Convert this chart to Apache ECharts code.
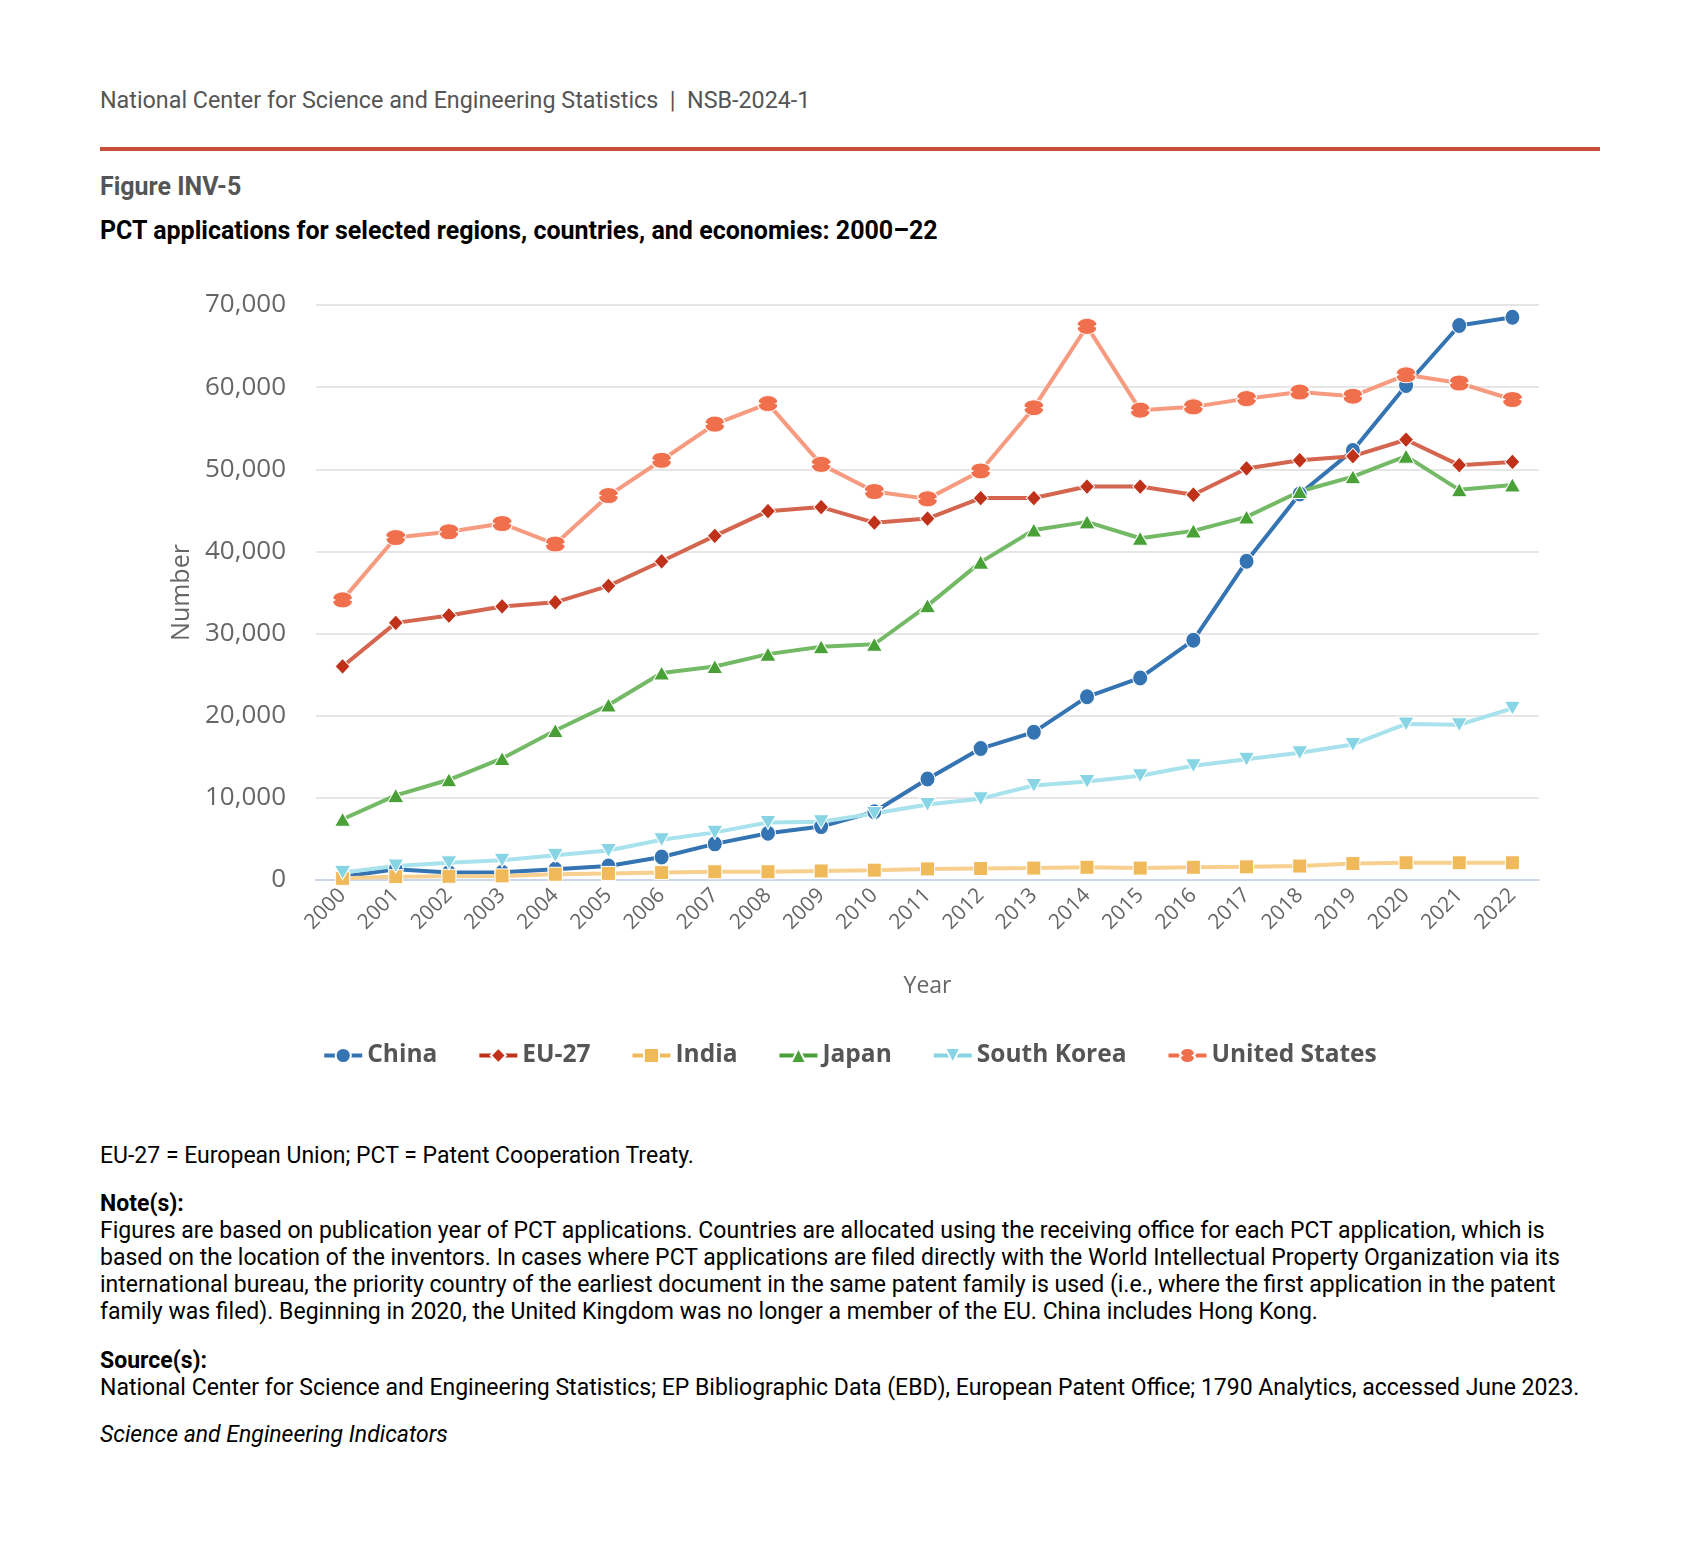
<!DOCTYPE html>
<html>
<head>
<meta charset="utf-8">
<script src="https://cdn.jsdelivr.net/npm/echarts@6/dist/echarts.min.js"></script>
<style>
  html, body { margin:0; padding:0; background:#fff; }
  body { width:1699px; height:1556px; position:relative; overflow:hidden; font-family: Roboto, "Noto Sans", sans-serif; }
  .t { position:absolute; left:100px; white-space:nowrap; line-height:27px; }
  #chart { position:absolute; left:0; top:250px; width:1699px; height:860px; }
</style>
</head>
<body>
<div class="t" style="top:87px;font-size:23.3px;color:#555;">National Center for Science and Engineering Statistics &nbsp;|&nbsp; NSB-2024-1</div>
<div style="position:absolute;left:100px;top:147px;width:1500px;height:4px;background:#c8503a;"></div>
<div class="t" style="top:173px;font-size:25px;font-weight:bold;color:#555;">Figure INV-5</div>
<div class="t" style="top:217px;font-size:25px;font-weight:bold;color:#000;">PCT applications for selected regions, countries, and economies: 2000–22</div>
<div id="chart"></div>
<div class="t" style="top:1142px;font-size:23px;color:#000;">EU-27 = European Union; PCT = Patent Cooperation Treaty.</div>
<div class="t" style="top:1190px;font-size:23px;color:#000;"><b>Note(s):</b><br>Figures are based on publication year of PCT applications. Countries are allocated using the receiving office for each PCT application, which is<br>based on the location of the inventors. In cases where PCT applications are filed directly with the World Intellectual Property Organization via its<br>international bureau, the priority country of the earliest document in the same patent family is used (i.e., where the first application in the patent<br>family was filed). Beginning in 2020, the United Kingdom was no longer a member of the EU. China includes Hong Kong.</div>
<div class="t" style="top:1347px;font-size:23px;color:#000;"><b>Source(s):</b><br>National Center for Science and Engineering Statistics; EP Bibliographic Data (EBD), European Patent Office; 1790 Analytics, accessed June 2023.</div>
<div class="t" style="top:1421px;font-size:23px;color:#000;font-style:italic;">Science and Engineering Indicators</div>
<script>
const years = ['2000','2001','2002','2003','2004','2005','2006','2007','2008','2009','2010','2011','2012','2013','2014','2015','2016','2017','2018','2019','2020','2021','2022'];
const china = [400,1300,900,950,1300,1700,2800,4400,5700,6500,8300,12300,16000,18000,22300,24600,29200,38800,47000,52300,60200,67500,68500];
const eu27 = [26000,31300,32200,33300,33800,35800,38800,41900,44900,45400,43500,44000,46500,46500,47900,47900,46900,50100,51100,51600,53600,50500,50900];
const india = [200,400,450,500,700,800,900,1000,1000,1100,1200,1350,1400,1450,1550,1450,1550,1600,1700,2000,2100,2100,2100];
const japan = [7400,10300,12200,14800,18200,21300,25200,26000,27500,28400,28700,33400,38700,42600,43600,41600,42500,44200,47300,49100,51600,47500,48100];
const southKorea = [900,1700,2100,2400,3000,3600,4900,5800,7000,7100,8100,9200,9900,11500,12000,12700,13900,14700,15500,16500,19000,18900,20900];
const unitedStates = [34100,41700,42400,43400,40900,46800,51100,55500,58000,50600,47300,46400,49800,57500,67400,57200,57600,58600,59400,58900,61500,60500,58500];
const seriesNames = ['China','EU-27','India','Japan','South Korea','United States'];
const yTicks = [0,10000,20000,30000,40000,50000,60000,70000];

const usSymbol = 'path://M0,4.3 C0,-1.2 10,-1.2 10,4.3 L8.8,5 L10,5.7 C10,11.2 0,11.2 0,5.7 L1.2,5 Z';
const skSymbol = 'path://M0,0 L10,0 L5,9 Z';

const styles = [
  { line:'#3574b2', mark:'#3574b2', symbol:'circle', size:[15,16] },
  { line:'#d4664f', mark:'#c0311a', symbol:'diamond', size:[15,16] },
  { line:'#f7d08f', mark:'#f0b95a', symbol:'rect', size:[14,14] },
  { line:'#74b965', mark:'#48a037', symbol:'triangle', size:[16,14] },
  { line:'#a8e2ec', mark:'#87d4e4', symbol:skSymbol, size:[16,14] },
  { line:'#f79b80', mark:'#f0704e', symbol:usSymbol, size:[20,16] }
];
const seriesData = [china, eu27, india, japan, southKorea, unitedStates];

const chart = echarts.init(document.getElementById('chart'));
chart.setOption({
  animation:false,
  textStyle:{ fontFamily:'"Open Sans", sans-serif' },
  grid:{ left:316, right:160, top:55, bottom:230, containLabel:false },
  legend:{
    top:788, left:'center', itemGap:40, itemWidth:38, itemHeight:19,
    textStyle:{ fontFamily:'"Open Sans", sans-serif', fontSize:24.5, fontWeight:'bold', color:'#555' },
    data: seriesNames.map((n,i) => ({ name:n, lineStyle:{ color:styles[i].mark, width:4 } }))
  },
  xAxis:{
    type:'category', data:years, boundaryGap:true,
    name:'Year', nameLocation:'middle', nameGap:95,
    nameTextStyle:{ fontSize:23, color:'#666', fontFamily:'"Open Sans", sans-serif' },
    axisLine:{ lineStyle:{ color:'#ccd6eb', width:2 } },
    axisTick:{ alignWithLabel:true, length:10, lineStyle:{ color:'#ccd6eb' } },
    axisLabel:{ rotate:45, fontSize:21, color:'#666', margin:12 }
  },
  yAxis:{
    type:'value', min:0, max:70000, interval:10000,
    name:'Number', nameLocation:'middle', nameGap:120,
    nameTextStyle:{ fontSize:25, color:'#666', fontFamily:'"Open Sans", sans-serif' },
    axisLabel:{ fontSize:26, color:'#666', margin:30, formatter:v => yTicks.includes(v) ? v.toLocaleString('en-US') : '' },
    splitLine:{ lineStyle:{ color:'#e6e6e6', width:2 } },
    axisLine:{ show:false }, axisTick:{ show:false }
  },
  series: seriesNames.map((n,i) => ({
    name:n, type:'line', data:seriesData[i],
    symbol:styles[i].symbol, symbolSize:styles[i].size, symbolKeepAspect:false,
    lineStyle:{ color:styles[i].line, width:4 },
    itemStyle:{ color:styles[i].mark, borderColor:'#fff', borderWidth:1 },
    emphasis:{ disabled:true }, animation:false
  }))
});
</script>
</body>
</html>
